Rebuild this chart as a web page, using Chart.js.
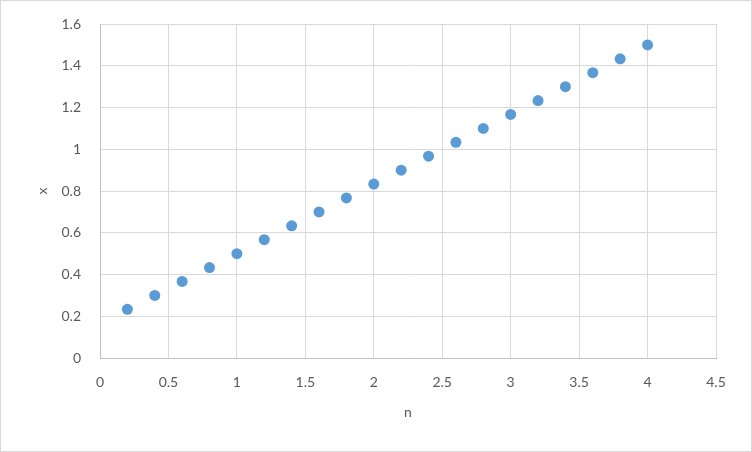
<!DOCTYPE html>
<html>
<head>
<meta charset="utf-8">
<script src="https://cdn.jsdelivr.net/npm/chart.js@4"></script>
<style>
  body { margin: 0; background: #fff; }
  #wrap { width: 752px; height: 452px; position: relative; }
</style>
</head>
<body>
<div id="wrap"><canvas id="scatterChart" width="752" height="452"></canvas></div>
<script>
// values
var nValues = [0.2, 0.4, 0.6, 0.8, 1, 1.2, 1.4, 1.6, 1.8, 2, 2.2, 2.4, 2.6, 2.8, 3, 3.2, 3.4, 3.6, 3.8, 4];
var xValues = [0.233, 0.3, 0.367, 0.433, 0.5, 0.567, 0.633, 0.7, 0.767, 0.833, 0.9, 0.967, 1.033, 1.1, 1.167, 1.233, 1.3, 1.367, 1.433, 1.5];
var xAxisMax = 4.5, xStep = 0.5;
var yAxisMax = 1.6, yStep = 0.2;

var points = [];
for (var i = 0; i < nValues.length; i++) {
    points.push({ x: nValues[i], y: xValues[i] });
}

var labelColor = "#595959";
var gridColor = "#d9d9d9";
var axisColor = "#bfbfbf";

var frame = {
    id: "frame",
    beforeDraw: function (chart) {
        var ctx = chart.ctx;
        ctx.save();
        ctx.fillStyle = "#fff";
        ctx.fillRect(0, 0, chart.width, chart.height);
        ctx.strokeStyle = gridColor;
        ctx.lineWidth = 1;
        ctx.strokeRect(0.5, 0.5, chart.width - 1, chart.height - 1);
        ctx.restore();
    }
};

// excel style numbers: 1 instead of 1.0
var plainNumber = function (value) {
    return String(Math.round(value * 10) / 10);
};

Chart.defaults.font.family = "Lato, 'Open Sans', sans-serif";
Chart.defaults.font.size = 14;
Chart.defaults.color = labelColor;

var ctx = document.getElementById("scatterChart").getContext("2d");
var myChart = new Chart(ctx, {
    type: "scatter",
    data: {
        datasets: [{
            data: points,
            backgroundColor: "#5b9bd5",
            borderColor: "#5b9bd5",
            borderWidth: 0,
            pointRadius: 5.5,
            pointHoverRadius: 5.5
        }]
    },
    options: {
        responsive: false,
        animation: false,
        layout: { padding: { left: 0, top: 24, right: 36, bottom: 0 } },
        plugins: { legend: { display: false }, tooltip: { enabled: false } },
        scales: {
            x: {
                type: "linear",
                min: 0,
                max: xAxisMax,
                afterFit: function (scale) { scale.height = 94; },
                ticks: { stepSize: xStep, padding: 16, color: labelColor, callback: plainNumber },
                grid: { color: gridColor, drawTicks: false },
                border: { color: axisColor, width: 1 },
                title: { display: true, text: "n", color: labelColor, padding: { top: 0, bottom: 31 } }
            },
            y: {
                min: 0,
                max: yAxisMax,
                afterFit: function (scale) { scale.width = 100; },
                // invisible tick marks push the labels left without adding top padding
                ticks: { stepSize: yStep, padding: 8, color: labelColor, callback: plainNumber },
                grid: { color: gridColor, drawTicks: true, tickLength: 11, tickColor: "rgba(0,0,0,0)" },
                border: { color: axisColor, width: 1 },
                title: { display: true, text: "x", color: labelColor, padding: { top: 34 } }
            }
        }
    },
    plugins: [frame]
});
</script>
</body>
</html>
